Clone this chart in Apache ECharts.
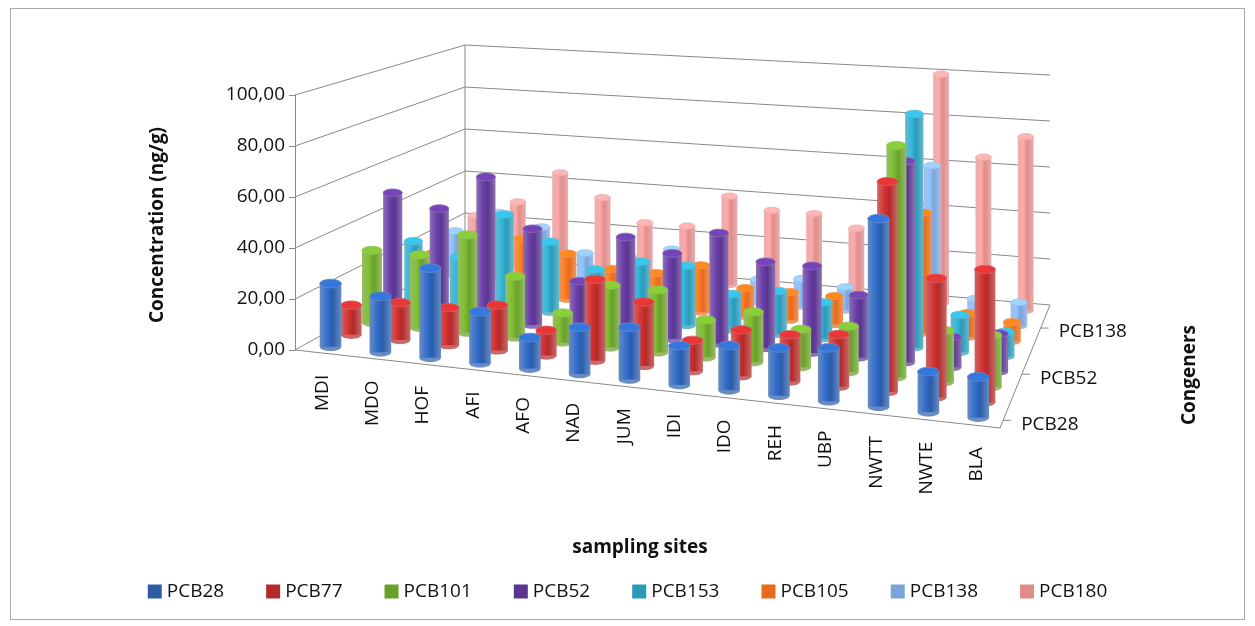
<!DOCTYPE html>
<html><head><meta charset="utf-8">
<script src="https://cdn.jsdelivr.net/npm/echarts@6/dist/echarts.min.js"></script>
<style>
html,body{margin:0;padding:0;background:#fff}
#frame{position:absolute;left:10px;top:8px;width:1233px;height:610px;border:1px solid #aaa}
#main{position:absolute;left:0;top:0;width:1255px;height:626px}
</style></head>
<body><div id="frame"></div><div id="main"></div>
<script>
var sites = ['MDI','MDO','HOF','AFI','AFO','NAD','JUM','IDI','IDO','REH','UBP','NWTT','NWTE','BLA'];
var congeners = ['PCB28','PCB77','PCB101','PCB52','PCB153','PCB105','PCB138','PCB180'];
var colors = ['#2a5caa','#b42a2a','#6aa02a','#5a3590','#2a9ab8','#e86a1a','#7aa4dc','#e08c8c'];
var pcb28  = [25,22,35,20,12,18,20,15,17,18,20,70,15,15];
var pcb77  = [12,15,15,18,10,32,25,12,18,18,20,80,45,50];
var pcb101 = [30,30,40,25,12,25,25,15,20,15,18,90,20,20];
var pcb52  = [50,45,60,40,20,40,35,45,35,35,25,80,12,15];
var pcb153 = [25,20,40,30,20,25,25,15,18,15,15,95,15,10];
var pcb105 = [15,25,25,20,15,15,20,12,12,12,15,50,10,8];
var pcb138 = [20,30,25,15,15,20,12,10,12,10,10,65,10,10];
var pcb180 = [22,30,45,35,25,25,40,35,35,30,35,100,65,75];
var values = [pcb28,pcb77,pcb101,pcb52,pcb153,pcb105,pcb138,pcb180];
var depthLabels = ['PCB28','PCB52','PCB138'];
var depthLabelIdx = [0,3,6];
var ticks = [0,20,40,60,80,100];

// floor corners and vertical scale (px per 100) for pseudo-3D
var FL=[295,350], FR=[1000,428], BL=[465,255], BR=[1050,305];
var SFL=255, SFR=275, SBL=210, SBR=230;
function P(u,w,f){
  var x=(1-u)*(1-w)*FL[0]+u*(1-w)*FR[0]+(1-u)*w*BL[0]+u*w*BR[0];
  var y=(1-u)*(1-w)*FL[1]+u*(1-w)*FR[1]+(1-u)*w*BL[1]+u*w*BR[1];
  var s=(1-u)*(1-w)*SFL+u*(1-w)*SFR+(1-u)*w*SBL+u*w*SBR;
  return [x,y-s*f];
}
function frac(api,v){
  var y0=api.coord([0,0])[1], y1=api.coord([0,100])[1], yv=api.coord([0,v])[1];
  return (y0-yv)/(y0-y1);
}
var myChart = echarts.init(document.getElementById('main'));
var series = [];
series.push({
  type:'custom', silent:true, data:ticks.map(function(t){return [0,t];}),
  renderItem:function(params,api){
    var f=frac(api,api.value(1));
    var ch=[{type:'polyline',shape:{points:[P(0,0,f),P(0,1,f),P(1,1,f)]},style:{stroke:'#888',lineWidth:1,fill:null}}];
    if(api.value(1)===0){
      ch.push({type:'polyline',shape:{points:[P(0,0,0),P(1,0,0),P(1,1,0)]},style:{stroke:'#888',lineWidth:1,fill:null}});
      ch.push({type:'line',shape:{x1:P(0,1,0)[0],y1:P(0,1,0)[1],x2:P(0,1,1)[0],y2:P(0,1,1)[1]},style:{stroke:'#888'}});
      sites.forEach(function(s,i){
        var p=P((i+0.5)/14,0,0);
        ch.push({type:'text',x:p[0]+2,y:p[1]+22,rotation:Math.PI/2,style:{text:s,font:'19px "Open Sans"',fill:'#111',align:'right',verticalAlign:'middle'}});
      });
      depthLabelIdx.forEach(function(j,k){
        var w=(j+0.5)/8, p=P(1,w,0);
        ch.push({type:'line',shape:{x1:p[0],y1:p[1],x2:p[0]+8,y2:p[1]},style:{stroke:'#888'}});
        ch.push({type:'text',x:p[0]+18,y:p[1]+4,style:{text:depthLabels[k],font:'19px "Open Sans"',fill:'#111',align:'left',verticalAlign:'middle'}});
      });
    }
    return {type:'group',children:ch};
  }
});
for (var j=congeners.length-1;j>=0;j--){
  (function(j){
    var c=colors[j], light=echarts.color.lift(c,-0.2), dark=echarts.color.lift(c,0.3), top=echarts.color.lift(c,-0.3);
    series.push({
      type:'custom', name:congeners[j], itemStyle:{color:c},
      data:values[j].map(function(v,i){return [i,v];}),
      renderItem:function(params,api){
        var i=api.value(0), f=frac(api,api.value(1));
        var u=(i+0.5)/14, w=(j+0.5)/8;
        var b=P(u,w,0), t=P(u,w,f);
        var r=11*(1-0.3*w), ry=r*0.4;
        var grad=new echarts.graphic.LinearGradient(0,0,1,0,[{offset:0,color:dark},{offset:0.35,color:light},{offset:0.6,color:c},{offset:1,color:dark}]);
        return {type:'group',children:[
          {type:'ellipse',shape:{cx:b[0],cy:b[1],rx:r,ry:ry},style:{fill:dark}},
          {type:'rect',shape:{x:b[0]-r,y:t[1],width:2*r,height:b[1]-t[1]},style:{fill:grad}},
          {type:'ellipse',shape:{cx:t[0],cy:t[1],rx:r,ry:ry},style:{fill:top,stroke:dark,lineWidth:0.8}}
        ]};
      }
    });
  })(j);
}
var option = {
  animation:false,
  grid:{left:295,top:95,width:1,height:255},
  xAxis:{type:'category',data:sites,show:false},
  yAxis:{type:'value',min:0,max:100,interval:20,
    axisLine:{show:true,lineStyle:{color:'#888'}},axisTick:{show:true,length:6,lineStyle:{color:'#888'}},
    splitLine:{show:false},
    axisLabel:{fontSize:19,color:'#111',fontFamily:'Open Sans',margin:10,formatter:function(v){return v.toFixed(2).replace('.',',');}}},
  legend:{data:congeners,bottom:20,left:'center',icon:'rect',itemWidth:14,itemHeight:14,itemGap:42,
    textStyle:{fontSize:19,color:'#111',fontFamily:'Open Sans'}},
  graphic:[
    {type:'text',x:158,y:225,rotation:Math.PI/2,style:{text:'Concentration (ng/g)',font:'bold 19px "Open Sans"',fill:'#111',align:'center',verticalAlign:'middle'}},
    {type:'text',x:640,y:548,style:{text:'sampling sites',font:'bold 19px "Open Sans"',fill:'#111',align:'center',verticalAlign:'middle'}},
    {type:'text',x:1190,y:375,rotation:Math.PI/2,style:{text:'Congeners',font:'bold 19px "Open Sans"',fill:'#111',align:'center',verticalAlign:'middle'}}
  ],
  series:series
};
myChart.setOption(option);
window.onresize=function(){myChart.resize();};
</script></body></html>
